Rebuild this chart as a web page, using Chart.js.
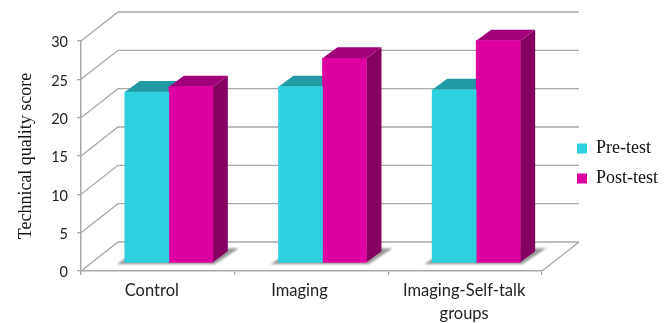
<!DOCTYPE html>
<html>
<head>
<meta charset="utf-8">
<style>
  html, body { margin: 0; padding: 0; background: #fff; }
  #wrap { width: 668px; height: 323px; }
</style>
<script src="https://cdn.jsdelivr.net/npm/chart.js@4"></script>
</head>
<body>
<div id="wrap"><canvas id="scoreChart"></canvas></div>
<script>
const groups = ["Control", "Imaging", ["Imaging-Self-talk", "groups"]];
const preTest = [22.3, 23, 22.6];
const postTest = [23, 26.7, 29];
const yTicks = [0, 5, 10, 15, 20, 25, 30];

// fake 3d depth, in px
const wall = { dx: 37, dy: 29 };
const barShift = { dx: 11, dy: 8 };
const barDepth = { dx: 15, dy: 11 };
const labelNudge = [-6, -12, -1];

const gridColor = "#a8a8a8";
const faceColors = [
  { front: "#2dd0de", top: "#229aa6", side: "#1c8a96" },
  { front: "#dc00a0", top: "#a2007a", side: "#860062" }
];

function poly(ctx, pts, fill) {
  ctx.beginPath();
  pts.forEach((p, i) => i ? ctx.lineTo(p[0], p[1]) : ctx.moveTo(p[0], p[1]));
  ctx.closePath();
  ctx.fillStyle = fill;
  ctx.fill();
}

function drawFaces(ctx, meta, c) {
  const d = barDepth;
  meta.data.forEach(el => {
    const l = el.x - el.width / 2, r = el.x + el.width / 2;
    poly(ctx, [[r, el.y], [r + d.dx, el.y - d.dy], [r + d.dx, el.base - d.dy], [r, el.base]], c.side);
    poly(ctx, [[l, el.y], [l + d.dx, el.y - d.dy], [r + d.dx, el.y - d.dy], [r, el.y]], c.top);
  });
}

const box3d = {
  id: "box3d",
  beforeDatasetsDraw(chart) {
    const ctx = chart.ctx, y = chart.scales.y, area = chart.chartArea;
    ctx.save();
    ctx.strokeStyle = gridColor;
    ctx.lineWidth = 1.3;
    yTicks.forEach(v => {
      const py = y.getPixelForValue(v);
      ctx.beginPath();
      ctx.moveTo(area.left, py);
      ctx.lineTo(area.left + wall.dx, py - wall.dy);
      ctx.lineTo(area.right + wall.dx, py - wall.dy);
      ctx.stroke();
    });
    ctx.beginPath();
    ctx.moveTo(area.right, area.bottom);
    ctx.lineTo(area.right + wall.dx, area.bottom - wall.dy);
    ctx.stroke();

    // soft shadow on the floor under each pair of bars
    ctx.filter = "blur(1.2px)";
    const first = chart.getDatasetMeta(0).data;
    const second = chart.getDatasetMeta(1).data;
    first.forEach((el, i) => {
      const l = el.x - el.width / 2 + barShift.dx;
      const r = second[i].x + second[i].width / 2 + barShift.dx;
      const b = el.base - barShift.dy;
      poly(ctx, [[l - 8, b + 2], [r + 2, b + 2], [r + 26, b - 14], [r, b - 14], [l + 4, b - 6]], "#999");
    });
    ctx.filter = "none";

    // the rear series goes first, the front one paints over its top face
    ctx.translate(barShift.dx, -barShift.dy);
    drawFaces(ctx, chart.getDatasetMeta(0), faceColors[0]);
    ctx.restore();
  },
  beforeDatasetDraw(chart, args) {
    const ctx = chart.ctx;
    ctx.save();
    ctx.translate(barShift.dx, -barShift.dy);
    if (args.index === 1) drawFaces(ctx, args.meta, faceColors[1]);
  },
  afterDatasetDraw(chart) {
    chart.ctx.restore();
  },
  afterDraw(chart) {
    const ctx = chart.ctx, x = chart.scales.x;
    ctx.save();
    ctx.font = "16.5px Lato";
    ctx.fillStyle = "#222";
    ctx.textAlign = "center";
    ctx.textBaseline = "middle";
    groups.forEach((g, i) => {
      const lines = Array.isArray(g) ? g : [g];
      lines.forEach((t, j) => {
        ctx.fillText(t, x.getPixelForTick(i) + labelNudge[i], 291 + j * 23);
      });
    });
    ctx.restore();
  }
};

new Chart(document.getElementById("scoreChart"), {
  type: "bar",
  plugins: [box3d],
  data: {
    labels: groups,
    datasets: [
      { label: "Pre-test", data: preTest, backgroundColor: faceColors[0].front, clip: false },
      { label: "Post-test", data: postTest, backgroundColor: faceColors[1].front, clip: false }
    ]
  },
  options: {
    responsive: true,
    maintainAspectRatio: false,
    animation: false,
    layout: { padding: { top: 41, bottom: 37, left: 0, right: 0 } },
    datasets: { bar: { barThickness: 44, categoryPercentage: 1, barPercentage: 1 } },
    plugins: {
      tooltip: { enabled: false },
      legend: {
        position: "right",
        labels: {
          boxWidth: 10,
          boxHeight: 10,
          padding: 12,
          color: "#111",
          font: { family: "'Liberation Serif'", size: 18 }
        }
      }
    },
    scales: {
      x: {
        grid: { drawOnChartArea: false, color: gridColor, tickLength: 4, lineWidth: 1.3 },
        border: { color: gridColor, width: 1.5 },
        ticks: { display: false },
        afterFit(s) { s.height = 15; }
      },
      y: {
        min: 0,
        max: 30,
        afterBuildTicks(s) { s.ticks = yTicks.map(v => ({ value: v })); },
        afterFit(s) { s.width = 81; },
        grid: { drawOnChartArea: false, color: gridColor, tickLength: 4, lineWidth: 1.3 },
        border: { color: gridColor, width: 1.5 },
        ticks: { color: "#222", padding: 9, labelOffset: 1.5, font: { family: "Lato", size: 14.5 } },
        title: {
          display: true,
          text: "Technical quality score",
          color: "#111",
          padding: { top: 15, bottom: 0 },
          font: { family: "'Liberation Serif'", size: 18 }
        }
      },
      // blank strip between the plot and the legend, the back wall runs through it
      depth: {
        position: "right",
        display: true,
        grid: { display: false },
        border: { display: false },
        ticks: { display: false },
        afterFit(s) { s.width = 23; }
      }
    }
  }
});
</script>
</body>
</html>
